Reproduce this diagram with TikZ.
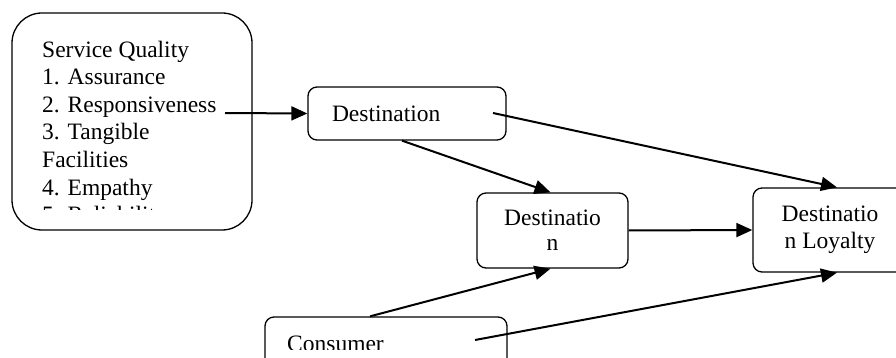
\documentclass[tikz,border=0pt]{standalone}
\usepackage{fontspec}
\setmainfont{Liberation Serif}
\usetikzlibrary{arrows.meta,positioning,calc}

\begin{document}
\begin{tikzpicture}[x=1pt, y=-1pt,
  bx/.style={rectangle, rounded corners=#1, draw, line width=1.3pt, inner sep=0pt, align=center, font=\fontsize{23.5}{27}\selectfont},
  bx/.default=9pt,
  txt/.style={anchor=base west, align=left, inner sep=0pt, font=\fontsize{23.5}{27.6}\selectfont},
  arr/.style={-{Triangle[length=16pt,width=14pt]}, line width=2pt}
]
  \clip (0,0) rectangle (896,358);
  % boxes
  \node[bx=30pt, minimum width=240pt, minimum height=217pt] (sq) at (132,121.5) {};
  \begin{scope}
    \clip (12,13) rectangle (252,209);
    \node[txt] (sqtxt) at (42,222.6) {Service Quality\\1. Assurance\\2. Responsiveness\\3. Tangible\\Facilities\\4. Empathy\\5. Reliability};
  \end{scope}
  \node[bx, minimum height=53pt, text width=150pt, inner xsep=24pt, align=left] (dest) at (407,113.5) {Destination};
  \node[bx, minimum width=151pt, minimum height=75pt, font=\fontsize{23.5}{25}\selectfont] (mid) at (552.5,230.5) {Destinatio\\n};
  \node[bx, minimum width=154pt, minimum height=84pt] (loy) at (830,230) {Destinatio\\n Loyalty};
  \node[bx, minimum width=242pt, minimum height=80pt] (cons) at (386,357) {};
  \begin{scope}
    \clip (265,317) rectangle (507,349);
    \node[txt] (constxt) at (287,351) {Consumer};
  \end{scope}
  % connectors
  \coordinate (a1) at (225,113);
  \coordinate (a2) at (493,113);
  \coordinate (a6) at (475,340);
  \draw[arr] (a1) -- (dest.west);
  \draw[arr] (a2) -- ([xshift=7pt]loy.north);
  \draw[arr] ([xshift=-5pt]dest.south) -- ([xshift=-2pt]mid.north);
  \draw[arr] (mid.east) -- (loy.west);
  \draw[arr] ([xshift=-16pt]cons.north) -- ([xshift=-2pt]mid.south);
  \draw[arr] (a6) -- ([xshift=7pt]loy.south);
\end{tikzpicture}
\end{document}
